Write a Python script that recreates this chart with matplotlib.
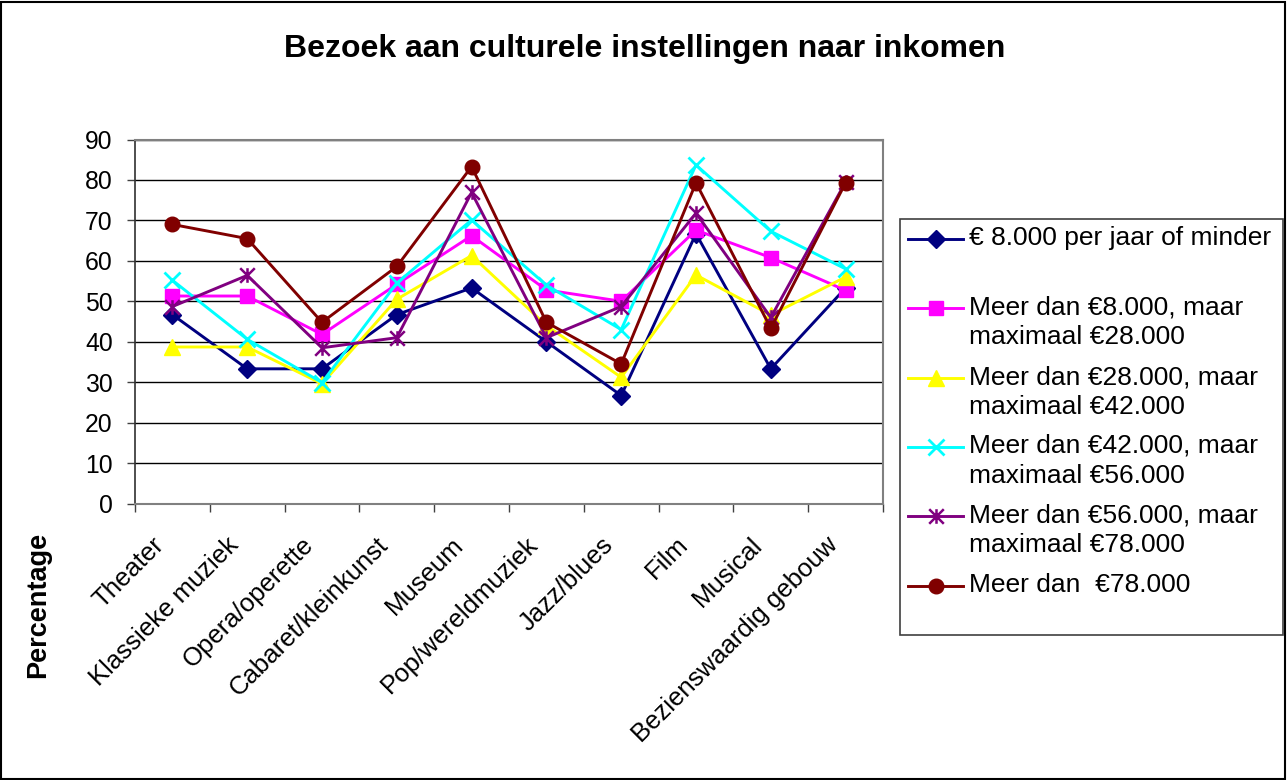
import matplotlib
matplotlib.use("Agg")
import matplotlib.pyplot as plt
import matplotlib.transforms as mtransforms
from matplotlib.lines import Line2D
from matplotlib.patches import Rectangle
from matplotlib.path import Path
import numpy as np

plt.rcParams['font.family'] = ['Liberation Sans', 'DejaVu Sans']

title = "Bezoek aan culturele instellingen naar inkomen"
ylabel = "Percentage"
categories = ["Theater", "Klassieke muziek", "Opera/operette", "Cabaret/kleinkunst",
              "Museum", "Pop/wereldmuziek", "Jazz/blues", "Film", "Musical",
              "Bezienswaardig gebouw"]
series_labels = [
    "€ 8.000 per jaar of minder",
    "Meer dan €8.000, maar\nmaximaal €28.000",
    "Meer dan €28.000, maar\nmaximaal €42.000",
    "Meer dan €42.000, maar\nmaximaal €56.000",
    "Meer dan €56.000, maar\nmaximaal €78.000",
    "Meer dan  €78.000",
]
s1 = [46.7, 33.3, 33.3, 46.7, 53.3, 40.0, 26.7, 66.7, 33.3, 53.3]
s2 = [51.3, 51.3, 41.8, 54.2, 66.2, 52.8, 50.0, 67.6, 60.8, 52.7]
s3 = [38.7, 38.7, 29.6, 50.5, 61.3, 44.0, 31.2, 56.5, 46.6, 56.0]
s4 = [55.2, 40.6, 29.9, 54.5, 70.1, 54.0, 43.0, 83.7, 67.3, 58.0]
s5 = [48.7, 56.4, 38.5, 41.0, 76.9, 41.0, 48.7, 71.8, 46.0, 79.5]
s6 = [69.0, 65.5, 44.8, 58.6, 83.3, 44.8, 34.5, 79.3, 43.3, 79.3]
yticks = [0, 10, 20, 30, 40, 50, 60, 70, 80, 90]

# Excel-style star marker: an X with a vertical bar
star = Path([(-1, -1), (1, 1), (-1, 1), (1, -1), (0, -1), (0, 1)],
            [Path.MOVETO, Path.LINETO, Path.MOVETO, Path.LINETO, Path.MOVETO, Path.LINETO])

series = [s1, s2, s3, s4, s5, s6]
colors = ["#000080", "#FF00FF", "#FFFF00", "#00FFFF", "#800080", "#800000"]
markers = ["D", "s", "^", "x", star, "o"]
msizes = [9, 10.5, 11, 11, 10.5, 10.5]
mews = [1, 1, 1, 2, 1.8, 1]

W, H = 1287, 780
fig = plt.figure(figsize=(W / 100, H / 100), dpi=100)
ax = fig.add_axes([135 / W, 1 - 503.5 / H, 748 / W, 364 / H])

x = np.arange(len(categories))
for i, (vals, c, m, ms, mew) in enumerate(zip(series, colors, markers, msizes, mews)):
    ax.plot(x, vals, color=c, lw=2.1, marker=m, markersize=ms, markeredgewidth=mew,
            markerfacecolor=c, markeredgecolor=c, zorder=3 + i, clip_on=False)

ax.set_xlim(-0.5, len(categories) - 0.5)
ax.set_ylim(0, 90)
ax.set_yticks(yticks)
ax.set_yticklabels([str(t) for t in yticks], fontsize=17.8)
ax.tick_params(axis='y', direction='out', length=6, width=1, pad=10, color='#404040')
ax.yaxis.grid(True, color='#000000', lw=1)
ax.set_axisbelow(True)

ax.set_xticks(x)
ax.set_xticklabels(categories, fontsize=18.5, rotation=45, ha='right', va='center',
                   rotation_mode='anchor')
ax.tick_params(axis='x', which='major', length=0, pad=27)
offset = mtransforms.ScaledTranslation(-12 / 100, 0, fig.dpi_scale_trans)
for lbl in ax.get_xticklabels():
    lbl.set_transform(lbl.get_transform() + offset)
ax.set_xticks(np.arange(len(categories) + 1) - 0.5, minor=True)
ax.tick_params(axis='x', which='minor', direction='out', length=6, width=1, color='#404040')

for side in ['top', 'right', 'bottom']:
    ax.spines[side].set_color('#808080')
    ax.spines[side].set_linewidth(1.5)
ax.spines['left'].set_color('#303030')
ax.spines['left'].set_linewidth(1.2)

fig.text(645 / W, 1 - 57 / H, title, ha='center', va='baseline', fontsize=23,
         fontweight='bold')
fig.text(38 / W, 1 - 605 / H, ylabel, ha='center', va='center', rotation=90,
         fontsize=19.5, fontweight='bold')

# legend box
fig.add_artist(Rectangle((900 / W, 1 - 635 / H), 383 / W, 416 / H, transform=fig.transFigure,
                         facecolor='white', edgecolor='#404040', lw=1.2))
leg_y = [239, 308, 378, 447, 516, 586]
for lab, c, m, ms, mew, yy in zip(series_labels, colors, markers, msizes, mews, leg_y):
    fy = 1 - yy / H
    fig.add_artist(Line2D([908 / W, 963 / W], [fy, fy], transform=fig.transFigure,
                          color=c, lw=2.1))
    fig.add_artist(Line2D([935.5 / W], [fy], transform=fig.transFigure, color=c,
                          marker=m, markersize=ms, markeredgewidth=mew,
                          markerfacecolor=c, markeredgecolor=c, lw=0))
    fig.text(969 / W, 1 - (yy - 13) / H, lab, ha='left', va='top', fontsize=19,
             linespacing=1.33)

# outer border
fig.add_artist(Rectangle((1 / W, 1 / H), (W - 3) / W, (H - 3) / H, transform=fig.transFigure,
                         facecolor='none', edgecolor='black', lw=1.5))

fig.savefig("out.png", dpi=100)
